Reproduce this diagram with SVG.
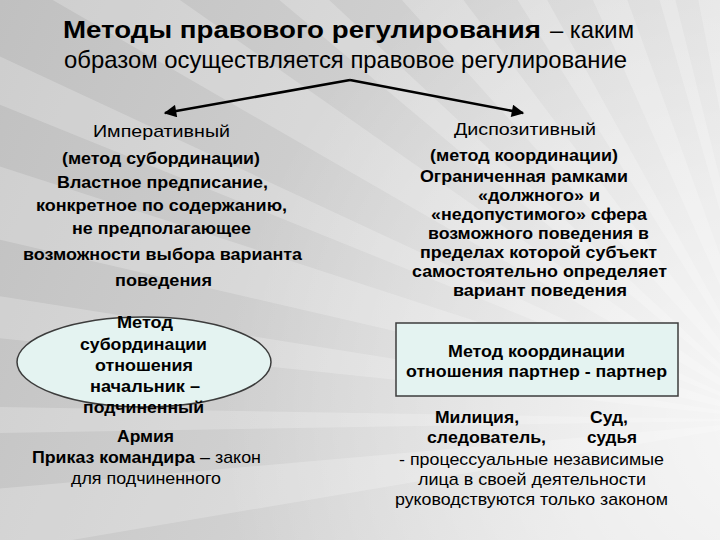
<svg xmlns="http://www.w3.org/2000/svg" width="720" height="540" viewBox="0 0 720 540">
  <defs>
    <linearGradient id="bg" x1="0" y1="0" x2="1" y2="0.3">
      <stop offset="0" stop-color="#c0c0c0"/>
      <stop offset="0.55" stop-color="#d0d0d0"/>
      <stop offset="1" stop-color="#e0e0e0"/>
    </linearGradient>
    <radialGradient id="glow" cx="780" cy="420" r="560" gradientUnits="userSpaceOnUse">
      <stop offset="0" stop-color="#ffffff" stop-opacity="0.75"/>
      <stop offset="1" stop-color="#ffffff" stop-opacity="0"/>
    </radialGradient>
    <marker id="ah" viewBox="0 0 10 10" refX="9" refY="5" markerWidth="5.5" markerHeight="5" orient="auto" markerUnits="strokeWidth">
      <path d="M0,0 L10,5 L0,10 z" fill="#000"/>
    </marker>
    <style>
      text { font-family: "Liberation Sans", Arial, sans-serif; fill: #000; }
      .t { font-family: "Liberation Sans Narrow", "Liberation Sans", Arial, sans-serif; font-size: 24px; }
      .b { font-weight: bold; font-size: 17px; }
      .n { font-size: 17px; }
      .ray { fill: #ffffff; }
      .edge { stroke: #000; stroke-width: 2.5; fill: none; }
      .shape { fill: #e4f3f1; stroke: #3c3c3c; stroke-width: 1.5; }
    </style>
  </defs>

  <g id="background">
    <rect x="0" y="0" width="720" height="540" fill="url(#bg)"/>
    <g opacity="0.22">
      <polygon class="ray" points="780,420 -400,620 -415,525"/>
      <polygon class="ray" points="780,420 -419,440 -419,400"/>
      <polygon class="ray" points="780,420 -413,295 -405,232"/>
      <polygon class="ray" points="780,420 -389,150 -361,49"/>
      <polygon class="ray" points="780,420 -333,-30 -308,-87"/>
      <polygon class="ray" points="780,420 -259,-180 -203,-268"/>
      <polygon class="ray" points="780,420 -139,-351 -98,-398"/>
      <polygon class="ray" points="780,420 -23,-472 58,-538"/>
      <polygon class="ray" points="780,420 144,-598 198,-630"/>
      <polygon class="ray" points="780,420 292,-676 370,-708"/>
      <polygon class="ray" points="780,420 449,-734 490,-744"/>
      <polygon class="ray" points="780,420 551,-758 613,-768"/>
      <polygon class="ray" points="780,420 675,-775 780,-780"/>
    </g>
    <rect x="0" y="0" width="720" height="540" fill="url(#glow)"/>
  </g>

  <g id="title">
    <text class="t" x="63" y="38" font-weight="bold" textLength="478" lengthAdjust="spacingAndGlyphs">Методы правового регулирования</text>
    <text class="t" x="550" y="38" textLength="84" lengthAdjust="spacingAndGlyphs">– каким</text>
    <text class="t" x="64" y="68" textLength="563" lengthAdjust="spacingAndGlyphs">образом осуществляется правовое регулирование</text>
  </g>

  <g id="connectors">
    <line class="edge" x1="350" y1="80" x2="165" y2="113" marker-end="url(#ah)"/>
    <line class="edge" x1="350" y1="80" x2="523" y2="113" marker-end="url(#ah)"/>
  </g>

  <g id="imperative">
    <text class="n" x="93" y="137" textLength="137" lengthAdjust="spacingAndGlyphs">Императивный</text>
    <text class="b" x="62" y="164" textLength="198" lengthAdjust="spacingAndGlyphs">(метод субординации)</text>
    <text class="b" x="57" y="188" textLength="211" lengthAdjust="spacingAndGlyphs">Властное предписание,</text>
    <text class="b" x="36" y="211" textLength="251" lengthAdjust="spacingAndGlyphs">конкретное по содержанию,</text>
    <text class="b" x="72" y="234" textLength="179" lengthAdjust="spacingAndGlyphs">не предполагающее</text>
    <text class="b" x="23" y="260" textLength="279" lengthAdjust="spacingAndGlyphs">возможности выбора варианта</text>
    <text class="b" x="115" y="286" textLength="97" lengthAdjust="spacingAndGlyphs">поведения</text>
  </g>

  <g id="dispositive">
    <text class="n" x="454" y="135" textLength="142" lengthAdjust="spacingAndGlyphs">Диспозитивный</text>
    <text class="b" x="430" y="161" textLength="188" lengthAdjust="spacingAndGlyphs">(метод координации)</text>
    <text class="b" x="420" y="182" textLength="208" lengthAdjust="spacingAndGlyphs">Ограниченная рамками</text>
    <text class="b" x="478" y="201" textLength="122" lengthAdjust="spacingAndGlyphs">«должного» и</text>
    <text class="b" x="431" y="220" textLength="216" lengthAdjust="spacingAndGlyphs">«недопустимого» сфера</text>
    <text class="b" x="428" y="239" textLength="221" lengthAdjust="spacingAndGlyphs">возможного поведения в</text>
    <text class="b" x="420" y="258" textLength="237" lengthAdjust="spacingAndGlyphs">пределах которой субъект</text>
    <text class="b" x="412" y="277" textLength="255" lengthAdjust="spacingAndGlyphs">самостоятельно определяет</text>
    <text class="b" x="453" y="296" textLength="174" lengthAdjust="spacingAndGlyphs">вариант поведения</text>
  </g>

  <g id="subordination-method">
    <ellipse class="shape" cx="144" cy="362" rx="127" ry="45"/>
    <text class="b" x="117" y="328" textLength="56" lengthAdjust="spacingAndGlyphs">Метод</text>
    <text class="b" x="80" y="350" textLength="127" lengthAdjust="spacingAndGlyphs">субординации</text>
    <text class="b" x="95" y="371" textLength="98" lengthAdjust="spacingAndGlyphs">отношения</text>
    <text class="b" x="90" y="392" textLength="110" lengthAdjust="spacingAndGlyphs">начальник –</text>
    <text class="b" x="83" y="413" textLength="121" lengthAdjust="spacingAndGlyphs">подчиненный</text>
  </g>

  <g id="army">
    <text class="b" x="117" y="442" textLength="57" lengthAdjust="spacingAndGlyphs">Армия</text>
    <text class="b" x="32" y="463" textLength="163" lengthAdjust="spacingAndGlyphs">Приказ командира</text>
    <text class="n" x="200" y="463" textLength="61" lengthAdjust="spacingAndGlyphs">– закон</text>
    <text class="n" x="71" y="484" textLength="150" lengthAdjust="spacingAndGlyphs">для подчиненного</text>
  </g>

  <g id="coordination-method">
    <rect class="shape" x="396" y="323" width="282" height="73"/>
    <text class="b" x="448" y="357" textLength="177" lengthAdjust="spacingAndGlyphs">Метод координации</text>
    <text class="b" x="406" y="377" textLength="261" lengthAdjust="spacingAndGlyphs">отношения партнер - партнер</text>
  </g>

  <g id="examples">
    <text class="b" x="435" y="423" textLength="84" lengthAdjust="spacingAndGlyphs">Милиция,</text>
    <text class="b" x="590" y="423" textLength="38" lengthAdjust="spacingAndGlyphs">Суд,</text>
    <text class="b" x="427" y="443" textLength="119" lengthAdjust="spacingAndGlyphs">следователь,</text>
    <text class="b" x="587" y="443" textLength="50" lengthAdjust="spacingAndGlyphs">судья</text>
    <text class="n" x="399" y="465" textLength="265" lengthAdjust="spacingAndGlyphs">- процессуальные независимые</text>
    <text class="n" x="418" y="485" textLength="228" lengthAdjust="spacingAndGlyphs">лица в своей деятельности</text>
    <text class="n" x="395" y="505" textLength="273" lengthAdjust="spacingAndGlyphs">руководствуются только законом</text>
  </g>
</svg>
